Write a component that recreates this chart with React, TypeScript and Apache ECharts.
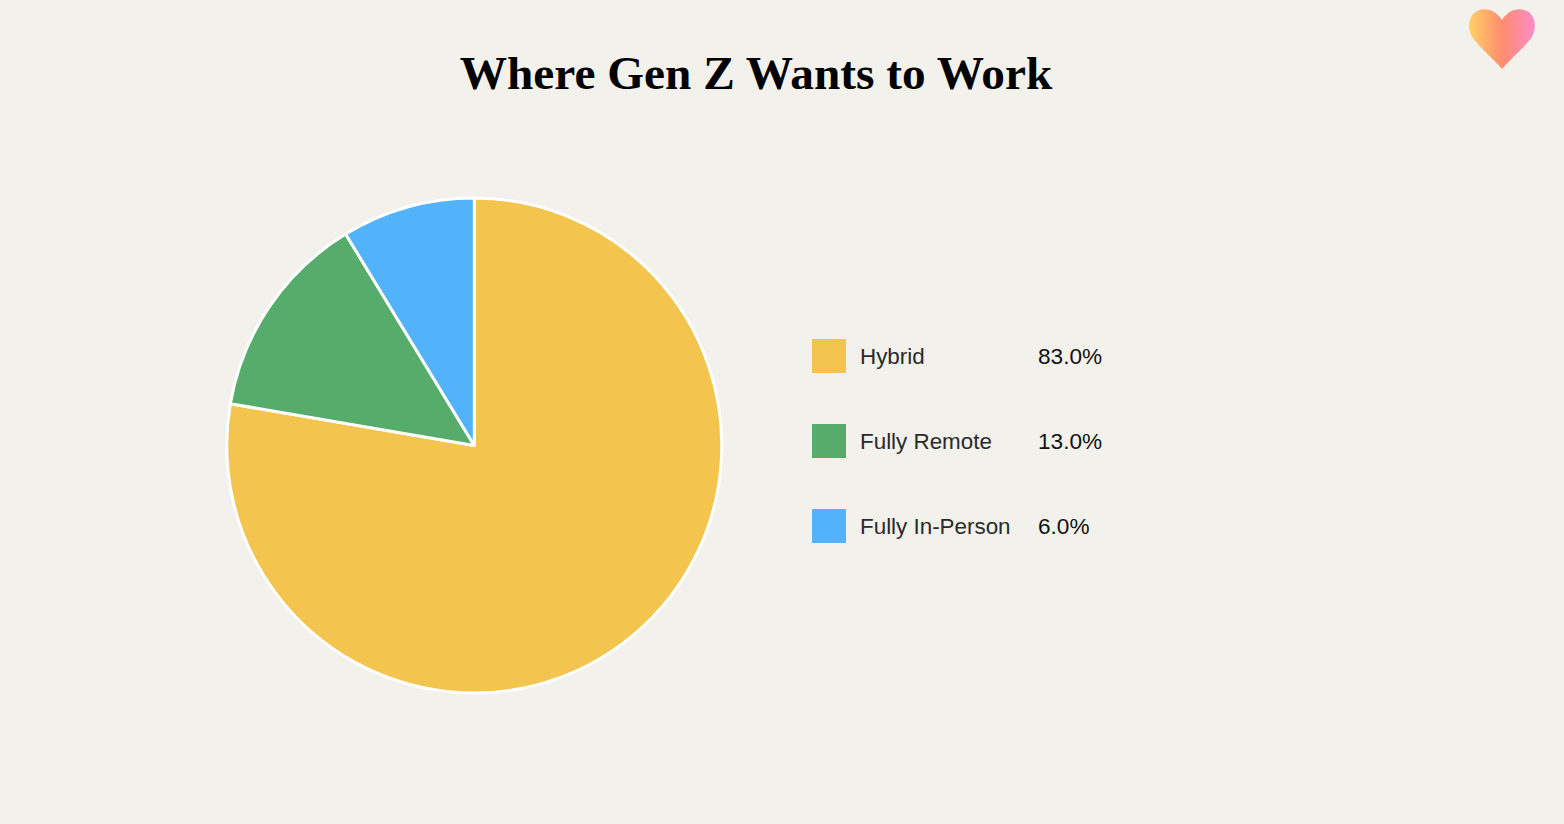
import React, { useEffect, useRef } from "react";
import * as echarts from "echarts";

const TITLE = "Where Gen Z Wants to Work";
const categories = ["Hybrid", "Fully Remote", "Fully In-Person"];
const sliceValues = [77.7, 13.6, 8.7];
const legendLabels = ["83.0%", "13.0%", "6.0%"];
const colors = ["#F3C54F", "#56AD6B", "#52B2FA"];

const HEART =
  "M33.5 60 C27 52 14 41 5 30 C-3 19 0 3 13 0.5 C22 -1 29 4 33.5 11 C38 4 45 -1 54 0.5 C67 3 70 19 62 30 C53 41 40 52 33.5 60 Z";

export default function App() {
  const ref = useRef<HTMLDivElement>(null);
  useEffect(() => {
    document.body.style.margin = "0";
    document.body.style.overflow = "hidden";
    echarts.graphic.registerShape("heart", (echarts.graphic as any).extendPath(HEART, {}));
    const chart = echarts.init(ref.current!, null, { renderer: "svg" });
    chart.setOption({
      animation: false,
      backgroundColor: "#F2F1EC",
      color: colors,
      title: {
        text: TITLE,
        left: 756,
        top: 44,
        padding: 0,
        textAlign: "center",
        textStyle: {
          fontFamily: "Liberation Serif",
          fontWeight: "bold",
          fontSize: 47.3,
          lineHeight: 58,
          color: "#000000",
        },
      },
      legend: {
        orient: "vertical",
        left: 812,
        top: 339,
        padding: 0,
        icon: "rect",
        itemWidth: 34,
        itemHeight: 34,
        itemGap: 51,
        selectedMode: false,
        itemStyle: { borderWidth: 0 },
        data: categories,
        formatter: (name: string) => `{n|${name}}{v|${legendLabels[categories.indexOf(name)]}}`,
        textStyle: {
          rich: {
            n: { width: 178, padding: [0, 0, 0, 9], fontFamily: "Liberation Sans", fontSize: 22.4, color: "#2A2A2A" },
            v: { fontFamily: "Liberation Sans", fontSize: 22.6, color: "#111111" },
          },
        },
      },
      series: [
        {
          type: "pie",
          center: [474.3, 445.5],
          radius: [0, 247.5],
          startAngle: 90,
          clockwise: true,
          label: { show: false },
          labelLine: { show: false },
          emphasis: { disabled: true },
          itemStyle: { borderColor: "#FFFFFF", borderWidth: 3 },
          data: categories.map((name, i) => ({ name, value: sliceValues[i] })),
        },
      ],
      graphic: [
        {
          type: "heart",
          x: 1468.5,
          y: 9,
          silent: true,
          style: {
            fill: new echarts.graphic.LinearGradient(0, 0, 1, 0, [
              { offset: 0, color: "#FFD166" },
              { offset: 0.5, color: "#FF8C70" },
              { offset: 1, color: "#FF8CC8" },
            ]),
          },
        },
      ],
    });
    return () => chart.dispose();
  }, []);
  return <div ref={ref} style={{ width: 1564, height: 824 }} />;
}
